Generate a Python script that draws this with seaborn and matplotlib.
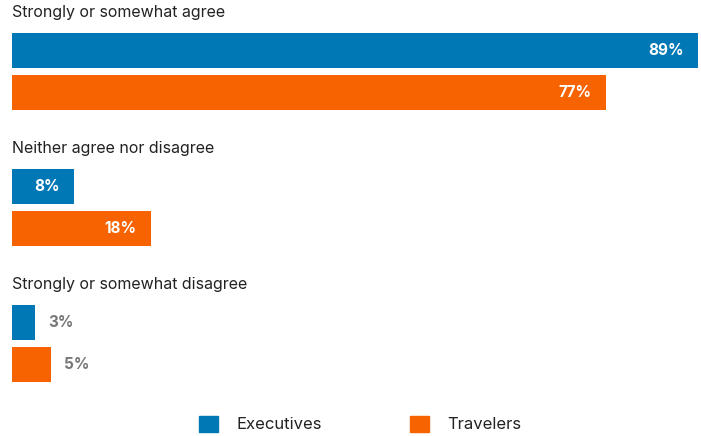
import matplotlib
matplotlib.use("Agg")
import matplotlib.pyplot as plt
import seaborn as sns
import pandas as pd

categories = ["Strongly or somewhat agree", "Neither agree nor disagree", "Strongly or somewhat disagree"]
groups = ["Executives", "Travelers"]
executives = [89, 8, 3]
travelers = [77, 18, 5]
colors = {"Executives": "#0078B5", "Travelers": "#F66300"}

rows = []
for cat, e, t in zip(categories, executives, travelers):
    rows.append({"category": cat, "group": "Executives", "value": e})
    rows.append({"category": cat, "group": "Travelers", "value": t})
df = pd.DataFrame(rows)

sns.set_theme(style="white")
plt.rcParams["font.family"] = ["Inter", "DejaVu Sans"]

W, H = 701, 436
fig = plt.figure(figsize=(W / 100, H / 100), dpi=100)
ax = fig.add_axes([12 / W, 0, (698 - 12) / W, 1])

sns.barplot(data=df, y="category", x="value", hue="group", orient="h",
            palette=colors, width=0.6176, gap=0.167, ax=ax, saturation=1,
            linewidth=0, edgecolor="none")

# one category step spans 136 px; the first group is centred 71.5 px from the top
ax.set_xlim(0, 89)
ax.set_ylim((H - 71.5) / 136, -71.5 / 136)
ax.axis("off")

# value labels: inside the bar when it is wide enough, otherwise just past its end
for container, vals in zip(ax.containers, [executives, travelers]):
    for bar, v in zip(container, vals):
        yc = bar.get_y() + bar.get_height() / 2
        end = bar.get_width()
        if v >= 8:
            ax.annotate(f"{v}%", (end, yc), xytext=(-14, 0), textcoords="offset pixels",
                        ha="right", va="center", color="white", fontsize=11, fontweight="bold")
        else:
            ax.annotate(f"{v}%", (end, yc), xytext=(13, 0), textcoords="offset pixels",
                        ha="left", va="center", color="#777777", fontsize=11, fontweight="bold")

# category headings above each pair of bars
for i, cat in enumerate(categories):
    ax.annotate(cat, (0, i), xytext=(0, 58.5), textcoords="offset pixels",
                ha="left", va="center", color="#222222", fontsize=11.5)

leg = ax.get_legend()
leg.remove()
handles = [plt.Rectangle((0, 0), 1, 1, color=colors[g]) for g in groups]
fig.legend(handles, groups, loc="center", bbox_to_anchor=(360 / W, 1 - 424 / H),
           ncol=2, frameon=False, fontsize=12, handlelength=1.15, handleheight=1.15,
           handletextpad=1.1, columnspacing=5.3, borderpad=0, labelcolor="#222222")

fig.savefig("out.png", dpi=100)
